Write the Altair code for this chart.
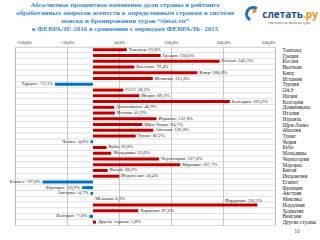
import altair as alt
import pandas as pd

countries = ["Таиланд", "Греция", "Россия", "Вьетнам", "Кипр", "Испания", "Турция", "ОАЭ",
             "Индия", "Болгария", "Доминикана", "Италия", "Израиль", "Шри-Ланка", "Абхазия",
             "Тунис", "Чехия", "Куба", "Мальдивы", "Черногория", "Марокко", "Китай",
             "Индонезия", "Египет", "Франция", "Австрия", "Мексика", "Иордания", "Хорватия",
             "Венгрия", "Другие страны"]
values = [65.0, 130.0, 243.5, 79.4, 200.6, 115.0, -73.3, 58.2,
          89.2, 263.2, 40.9, 41.9, 122.0, 94.7, 116.0,
          82.2, -4.8, 26.0, 35.0, 127.0, 167.7, 28.2,
          50.4, -97.0, -20.9, -4.7, 0.3, 316.1, 87.0,
          -7.0, 5.8]
x_ticks = [-150, -100, -50, 0, 50, 100, 150, 200, 250, 300, 350]
title_lines = [
    "Абсолютное процентное изменение доли страны  в рейтинге",
    "обработанных запросов агентств к определенным странам в системе",
    "поиска и бронирования туров  \u201csletat.ru\u201d",
    "в ФЕВРАЛЕ-2016 в сравнении с  периодом  ФЕВРАЛЬ- 2015",
]
logo_main = "слетать"
logo_tail = ".ру"
logo_tag = "технологии выбора тура"
page_no = "10"

df = pd.DataFrame({"country": countries, "value": values})
df["label"] = [f"{c}: {v:.1f}%".replace(".", ",") for c, v in zip(countries, values)]
df["sign"] = ["neg" if v < 0 else "pos" for v in values]

SERIF = "Liberation Serif"

xenc = alt.X("value:Q", scale=alt.Scale(domain=[-150, 350], nice=False, zero=False),
             axis=alt.Axis(orient="top", values=x_ticks, title=None, ticks=False, domain=False,
                           labelExpr="replace(format(datum.value,'.1f'),'.',',')+'%'",
                           labelFont=SERIF, labelFontSize=4.5, labelPadding=3,
                           labelColor="#222222", gridColor="#a6a6a6", gridWidth=0.6))
yenc = alt.Y("country:N", sort=countries, scale=alt.Scale(paddingInner=0, paddingOuter=0),
             axis=alt.Axis(orient="right", title=None, ticks=False, domain=False, grid=False,
                           labelAlign="left", labelPadding=7, labelFont=SERIF,
                           labelFontSize=5.3, labelColor="#222222"))

base = alt.Chart(df)

hgrid = base.mark_rule(color="#c0c0c0", strokeWidth=0.5).encode(
    y=alt.Y("country:N", sort=countries, bandPosition=0))

bars = base.mark_bar(size=3).encode(
    x=xenc, y=yenc,
    color=alt.Color("sign:N", scale=alt.Scale(domain=["pos", "neg"], range=["#C00000", "#0070C0"]),
                    legend=None))

lab_pos = base.transform_filter("datum.value >= 0 && datum.value < 300").mark_text(
    align="left", baseline="middle", dx=2, font=SERIF, fontSize=4.8, color="#222222").encode(
    x="value:Q", y=alt.Y("country:N", sort=countries), text="label:N")
lab_neg = base.transform_filter("datum.value < 0").mark_text(
    align="right", baseline="middle", dx=-2, font=SERIF, fontSize=4.8, color="#222222").encode(
    x="value:Q", y=alt.Y("country:N", sort=countries), text="label:N")
lab_big = base.transform_filter("datum.value >= 300").mark_text(
    align="right", baseline="middle", dx=5, dy=-4, font=SERIF, fontSize=4.8, color="#222222").encode(
    x="value:Q", y=alt.Y("country:N", sort=countries), text="label:N")

deco = []
for i, line in enumerate(title_lines):
    deco.append(alt.Chart(pd.DataFrame({"t": [line]})).mark_text(
        align="center", baseline="middle", font=SERIF, fontSize=7, fontWeight="bold",
        color="#3B8AD0").encode(text="t:N", x=alt.value(110), y=alt.value(-42 + 8 * i)))

deco.append(alt.Chart(pd.DataFrame({"t": [logo_main]})).mark_text(
    align="right", baseline="middle", font="Open Sans", fontSize=10, fontWeight="bold",
    color="#1E4E9A").encode(text="t:N", x=alt.value(288), y=alt.value(-32)))
deco.append(alt.Chart(pd.DataFrame({"t": [logo_tail]})).mark_text(
    align="left", baseline="middle", font="Open Sans", fontSize=10, fontWeight="bold",
    color="#F39200").encode(text="t:N", x=alt.value(288), y=alt.value(-32)))
deco.append(alt.Chart(pd.DataFrame({"t": [logo_tag]})).mark_text(
    align="left", baseline="middle", font="Open Sans", fontSize=3.5,
    color="#555555").encode(text="t:N", x=alt.value(253), y=alt.value(-24)))
deco.append(alt.Chart(pd.DataFrame({"t": [page_no]})).mark_text(
    align="center", baseline="middle", font=SERIF, fontSize=5.5,
    color="#555555").encode(text="t:N", x=alt.value(282), y=alt.value(184)))
deco.append(alt.Chart(pd.DataFrame({"a": [0]})).mark_arc(
    radius=8, radius2=5, theta=3.6, theta2=6.9, color="#1E6FC0").encode(
    x=alt.value(238), y=alt.value(-33)))
deco.append(alt.Chart(pd.DataFrame({"a": [0]})).mark_point(
    shape="triangle-right", size=30, filled=True, color="#F39200", opacity=1).encode(
    x=alt.value(240), y=alt.value(-36)))

chart = alt.layer(hgrid, bars, lab_pos, lab_neg, lab_big, *deco).resolve_scale(
    color="independent").properties(
    width=260, height=178, autosize=alt.AutoSizeParams(type="none"),
    padding={"left": 15, "top": 47, "right": 45, "bottom": 15}
).configure_view(stroke="#a6a6a6", strokeWidth=0.6).configure(background="white")

chart.save("out.html", embed_options={"renderer": "svg", "actions": False})
